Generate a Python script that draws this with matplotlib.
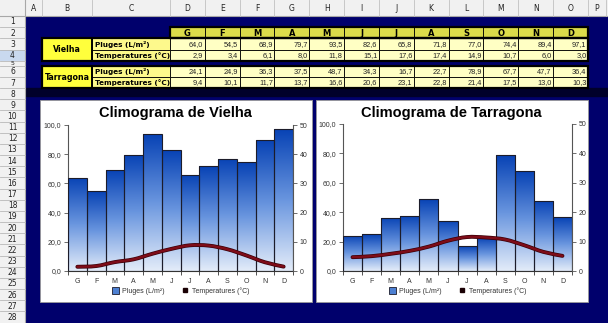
import numpy as np
import matplotlib
matplotlib.use("Agg")
import matplotlib.pyplot as plt
from matplotlib.patches import Rectangle, PathPatch
from matplotlib.path import Path
from matplotlib.lines import Line2D
from matplotlib.colors import LinearSegmentedColormap

# ---- data -------------------------------------------------------------
mesos = ['G', 'F', 'M', 'A', 'M', 'J', 'J', 'A', 'S', 'O', 'N', 'D']
pluges_vielha = [64.0, 54.5, 68.9, 79.7, 93.5, 82.6, 65.8, 71.8, 77.0, 74.4, 89.4, 97.1]
temp_vielha = [2.9, 3.4, 6.1, 8.0, 11.8, 15.1, 17.6, 17.4, 14.9, 10.7, 6.0, 3.0]
pluges_tarragona = [24.1, 24.9, 36.3, 37.5, 48.7, 34.3, 16.7, 22.7, 78.9, 67.7, 47.7, 36.4]
temp_tarragona = [9.4, 10.1, 11.7, 13.7, 16.6, 20.6, 23.1, 22.8, 21.4, 17.5, 13.0, 10.3]
columnes = ['A', 'B', 'C', 'D', 'E', 'F', 'G', 'H', 'I', 'J', 'K', 'L', 'M', 'N', 'O', 'P']
etiqueta_pluges = 'Pluges (L/m²)'
etiqueta_temp = 'Temperatures (°C)'

W, H = 608, 323
NAVY = '#00006c'

fig = plt.figure(figsize=(W / 100, H / 100), dpi=100)
bg = fig.add_axes([0, 0, 1, 1])
bg.set_xlim(0, W)
bg.set_ylim(H, 0)
bg.axis('off')

# ---- spreadsheet grid -------------------------------------------------
hdr_h = 15.5
rowhdr_w = 25
col_edges = [25, 42, 92, 170] + [170 + 34.83 * (i + 1) for i in range(12)] + [606]
row_edges = [15.5, 27, 38, 49.5, 60.5, 65.5, 77, 88] + [88 + 11.17 * (k + 1) for k in range(21)]

bg.add_patch(Rectangle((rowhdr_w, hdr_h), W - rowhdr_w, H - hdr_h, color=NAVY, zorder=0))
bg.add_patch(Rectangle((0, 0), W, hdr_h, facecolor='#f1f1f1', edgecolor='none', zorder=1))
bg.add_patch(Rectangle((0, 0), rowhdr_w, H, facecolor='#f1f1f1', edgecolor='none', zorder=1))
bg.plot([0, W], [hdr_h, hdr_h], color='#a8a8a8', lw=0.8, zorder=2)
bg.plot([rowhdr_w, rowhdr_w], [0, H], color='#a8a8a8', lw=0.8, zorder=2)

for i, name in enumerate(columnes):
    x0, x1 = col_edges[i], col_edges[i + 1]
    bg.plot([x1, x1], [0, hdr_h], color='#c0c0c0', lw=0.6, zorder=2)
    bg.text((x0 + x1) / 2, hdr_h / 2 + 0.5, name, ha='center', va='center',
            fontsize=5.5, family='DejaVu Sans', color='#222222', zorder=3)

for k in range(28):
    y0, y1 = row_edges[k], row_edges[k + 1]
    if k == 3:
        bg.add_patch(Rectangle((0, y0), rowhdr_w, y1 - y0, facecolor='#c9d9ef',
                               edgecolor='none', zorder=1.5))
    bg.plot([0, rowhdr_w], [y1, y1], color='#b8b8b8', lw=0.6, zorder=2)
    bg.text(rowhdr_w / 2, (y0 + y1) / 2 + 0.5, str(k + 1), ha='center', va='center',
            fontsize=5.5 if (y1 - y0) > 8 else 4.5, family='DejaVu Sans',
            color='#222222', zorder=3)

# dark band under the table
bg.add_patch(Rectangle((rowhdr_w, 88), W - rowhdr_w, 8, color='#00002a', zorder=0.5))


def fmt(v):
    return f'{v:.1f}'.replace('.', ',')


def cell(x0, x1, y0, y1, fc, lw=0.6):
    bg.add_patch(Rectangle((x0, y0), x1 - x0, y1 - y0, facecolor=fc,
                           edgecolor='black', lw=lw, zorder=2))


# month header row
for i, m in enumerate(mesos):
    x0, x1 = col_edges[3 + i], col_edges[4 + i]
    cell(x0, x1, row_edges[1], row_edges[2], '#dcdc4a')
    bg.text((x0 + x1) / 2, (row_edges[1] + row_edges[2]) / 2 + 0.6, m, ha='center',
            va='center', fontsize=6, weight='heavy', family='DejaVu Sans', zorder=3)
bg.add_patch(Rectangle((col_edges[3], row_edges[1]), col_edges[15] - col_edges[3],
                       row_edges[2] - row_edges[1], fill=False, edgecolor='black',
                       lw=1.6, zorder=4))


def taula(nom, pluges, temps, r0):
    ya, yb, yc = row_edges[r0], row_edges[r0 + 1], row_edges[r0 + 2]
    cell(col_edges[1], col_edges[2], ya, yc, '#ffff3c')
    bg.text((col_edges[1] + col_edges[2]) / 2, (ya + yc) / 2 + 0.5, nom, ha='center',
            va='center', fontsize=6.3, weight='bold', family='DejaVu Sans',
            stretch='condensed', zorder=3)
    for (y0, y1, lab, vals) in [(ya, yb, etiqueta_pluges, pluges),
                                (yb, yc, etiqueta_temp, temps)]:
        cell(col_edges[2], col_edges[3], y0, y1, '#fdf98c')
        bg.text(col_edges[2] + 3, (y0 + y1) / 2 + 0.5, lab, ha='left', va='center',
                fontsize=5.2, weight='bold', family='DejaVu Sans', zorder=3)
        for i, v in enumerate(vals):
            x0, x1 = col_edges[3 + i], col_edges[4 + i]
            cell(x0, x1, y0, y1, '#ffffc4')
            bg.text(x1 - 1.5, (y0 + y1) / 2 + 0.5, fmt(v), ha='right', va='center',
                    fontsize=5.3, family='Liberation Sans', color='#222222', zorder=3)
    bg.add_patch(Rectangle((col_edges[1], ya), col_edges[15] - col_edges[1], yc - ya,
                           fill=False, edgecolor='black', lw=1.6, zorder=4))
    bg.add_patch(Rectangle((col_edges[1], ya), col_edges[2] - col_edges[1], yc - ya,
                           fill=False, edgecolor='black', lw=1.4, zorder=4))


taula('Vielha', pluges_vielha, temp_vielha, 2)
taula('Tarragona', pluges_tarragona, temp_tarragona, 5)

# ---- charts -----------------------------------------------------------
cmap = LinearSegmentedColormap.from_list('pluja', ['#e3ecf9', '#6a96df', '#0843b5'])
grad = np.linspace(0, 1, 128).reshape(-1, 1)


def bezier_path(xs, ys):
    pts = np.column_stack([xs, ys])
    n = len(pts)
    verts = [pts[0]]
    codes = [Path.MOVETO]
    for i in range(n - 1):
        p0 = pts[max(i - 1, 0)]
        p1 = pts[i]
        p2 = pts[i + 1]
        p3 = pts[min(i + 2, n - 1)]
        c1 = p1 + (p2 - p0) / 6.0
        c2 = p2 - (p3 - p1) / 6.0
        verts += [c1, c2, p2]
        codes += [Path.CURVE4] * 3
    return Path(verts, codes)


def climograma(box, plot, titol, pluges, temps):
    bx0, by0, bx1, by1 = box
    bg.add_patch(Rectangle((bx0, by0), bx1 - bx0, by1 - by0, facecolor='white',
                           edgecolor='#9a9a9a', lw=0.6, zorder=1))
    bg.text((bx0 + bx1) / 2 - 1, 113, titol, ha='center', va='center', fontsize=10.5,
            weight='bold', family='Liberation Sans', zorder=3)

    px0, py0, px1, py1 = plot
    ax = fig.add_axes([px0 / W, 1 - py1 / H, (px1 - px0) / W, (py1 - py0) / H])
    ax.patch.set_visible(False)
    x = np.arange(len(mesos))
    bars = ax.bar(x, pluges, width=1.0, facecolor='none', edgecolor='#1c1c2a',
                  lw=0.8, zorder=3)
    for b in bars:
        im = ax.imshow(grad, cmap=cmap, origin='lower', aspect='auto',
                       extent=(b.get_x(), b.get_x() + b.get_width(), 0, b.get_height()),
                       zorder=2)
        im.set_clip_path(b)
    ax.add_patch(PathPatch(bezier_path(x, temps), facecolor='none', edgecolor='#3a0008',
                           lw=2.8, zorder=4, capstyle='round'))
    ax.add_patch(PathPatch(bezier_path(x, temps), facecolor='none', edgecolor='#7e0c18',
                           lw=1.8, zorder=5, capstyle='round'))
    ax.set_xlim(-0.5, len(mesos) - 0.5)
    ax.set_ylim(0, 100)
    ax.set_yticks(np.arange(0, 101, 20))
    ax.set_yticklabels([fmt(v) for v in np.arange(0, 101, 20)])
    ax.set_xticks(x)
    ax.set_xticklabels(mesos)
    ax.set_xticks(np.arange(-0.5, len(mesos), 1), minor=True)
    ax.tick_params(axis='x', which='major', length=0, pad=5, labelsize=5,
                   labelcolor='#333333')
    ax.tick_params(axis='x', which='minor', length=3, color='#333333', width=0.6)
    ax.tick_params(axis='y', length=3, width=0.6, color='#555555', pad=2,
                   labelsize=5, labelcolor='#333333')
    for lbl in ax.get_xticklabels() + ax.get_yticklabels():
        lbl.set_family('Liberation Sans')
    ax.spines['top'].set_visible(False)
    ax.spines['right'].set_visible(False)
    ax.spines['left'].set_color('#555555')
    ax.spines['bottom'].set_color('#333333')
    for s in ('left', 'bottom'):
        ax.spines[s].set_linewidth(0.8)

    ax2 = ax.twinx()
    ax2.set_ylim(0, 50)
    ax2.set_yticks(np.arange(0, 51, 10))
    ax2.tick_params(axis='y', length=3, width=0.6, color='#555555', pad=2,
                    labelsize=5, labelcolor='#333333')
    for lbl in ax2.get_yticklabels():
        lbl.set_family('Liberation Sans')
    for s in ('top', 'left', 'bottom'):
        ax2.spines[s].set_visible(False)
    ax2.spines['right'].set_color('#555555')
    ax2.spines['right'].set_linewidth(0.8)

    handles = [Rectangle((0, 0), 1, 1, facecolor='#4d80d2', edgecolor='#1c1c2a', lw=0.6),
               Line2D([], [], ls='none', marker='s', markersize=2.5, color='#1a0004')]
    leg = ax.legend(handles, [etiqueta_pluges, etiqueta_temp], loc='center',
                    bbox_to_anchor=(0.5, -20 / (py1 - py0)), ncol=2, frameon=False,
                    prop={'family': 'Liberation Sans', 'size': 5},
                    handlelength=1.0, handleheight=1.0, handletextpad=0.5,
                    columnspacing=2.4)
    for t in leg.get_texts():
        t.set_color('#333333')


climograma((40, 100, 312, 302), (68, 125, 293, 271), 'Climograma de Vielha',
           pluges_vielha, temp_vielha)
climograma((316, 100, 588, 302), (343, 124, 572, 271), 'Climograma de Tarragona',
           pluges_tarragona, temp_tarragona)

fig.savefig('out.png', dpi=100)
